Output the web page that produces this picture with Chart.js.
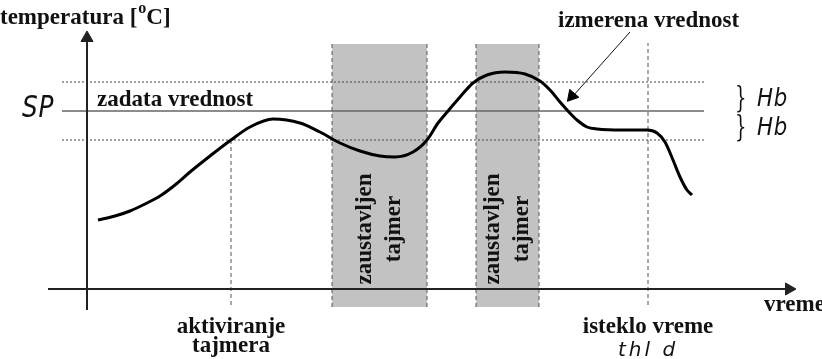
<!DOCTYPE html>
<html><head><meta charset="utf-8">
<script src="https://cdn.jsdelivr.net/npm/chart.js@4/dist/chart.umd.min.js"></script>
<style>html,body{margin:0;padding:0;background:#fff}#wrap{width:822px;height:359px}</style>
</head><body><div id="wrap"><canvas id="c" width="822" height="359"></canvas></div>
<script>
// time (x) and temperature (y) in schematic units; x axis at T=0, y axis at t=0
const curveTime = [11,28,43,58,73,88,103,123,144,163,186,213,233,253,273,293,308,326,340,351,361,373,386,400,418,438,453,463,473,481,490,500,510,536,560,570,578,586,593,600,605];
const curveTemp = [69,73,78,85,93,104,117,133,149,162,170,166,157,146,138,133,132,137,149,166,178,192,206,214,217,215,208,199,187,178,169,162,160,159,159,156,147,129,112,99,94];
const setPoint = 178;
const hysteresis = 29;
const bandLineRange = [-25, 617];
const stopBands = [[245, 340], [389, 452]]; // timer stopped intervals
const bandTempRange = [-18, 245];
const timerStart = 144;
const timerEnd = 561;
const timeAxisRange = [-39, 708];
const tempAxisRange = [-21, 257];
const arrowFrom = [543, 257];
const arrowTo = [481, 187];

const labels = {
  yTitle: 'temperatura [', yUnitSup: 'o', yUnit: 'C]',
  sp: 'SP', setText: 'zadata vrednost', measured: 'izmerena vrednost',
  hb: 'Hb', stop1: 'zaustavljen', stop2: 'tajmer',
  start1: 'aktiviranje', start2: 'tajmera', end1: 'isteklo vreme', end2: 'thl d', xTitle: 'vreme'
};

const ds = [];
// bands
stopBands.forEach(b => {
  ds.push({data:[{x:b[0],y:bandTempRange[1]},{x:b[1],y:bandTempRange[1]}], fill:{value:bandTempRange[0]},
    backgroundColor:'#c2c2c2', borderWidth:0, pointRadius:0, order:20});
  b.forEach(x => ds.push({data:[{x:x,y:bandTempRange[0]},{x:x,y:bandTempRange[1]}], borderColor:'#555',
    borderWidth:1, borderDash:[4,3], pointRadius:0, order:15}));
});
// timer verticals
ds.push({data:[{x:timerStart,y:-16},{x:timerStart,y:setPoint-hysteresis}], borderColor:'#555', borderWidth:1, borderDash:[4,3], pointRadius:0, order:15});
ds.push({data:[{x:timerEnd,y:-16},{x:timerEnd,y:bandTempRange[1]+1}], borderColor:'#555', borderWidth:1, borderDash:[4,3], pointRadius:0, order:15});
// setpoint and hysteresis lines
ds.push({data:[{x:bandLineRange[0],y:setPoint},{x:bandLineRange[1],y:setPoint}], borderColor:'#666', borderWidth:1.6, pointRadius:0, order:10});
[setPoint+hysteresis, setPoint-hysteresis].forEach(v => ds.push({data:[{x:bandLineRange[0],y:v},{x:bandLineRange[1],y:v}],
  borderColor:'#444', borderWidth:1, borderDash:[2,2], pointRadius:0, order:10}));
// axes
ds.push({data:[{x:0,y:tempAxisRange[0]},{x:0,y:tempAxisRange[1]-10}], borderColor:'#222', borderWidth:2, pointRadius:0, order:5});
ds.push({data:[{x:0,y:tempAxisRange[1]-6}], pointStyle:'triangle', pointRadius:7, pointBackgroundColor:'#222', pointBorderColor:'#222', showLine:false, order:5});
ds.push({data:[{x:timeAxisRange[0],y:0},{x:timeAxisRange[1]-10,y:0}], borderColor:'#222', borderWidth:2, pointRadius:0, order:5});
ds.push({data:[{x:timeAxisRange[1]-6,y:0}], pointStyle:'triangle', pointRadius:7, pointRotation:90, pointBackgroundColor:'#222', pointBorderColor:'#222', showLine:false, order:5});
// measured curve
ds.push({data:curveTime.map((t,i)=>({x:t,y:curveTemp[i]})), borderColor:'#000', borderWidth:3, pointRadius:0, cubicInterpolationMode:'monotone', order:1});
// annotation arrow
ds.push({data:[{x:arrowFrom[0],y:arrowFrom[1]},{x:arrowTo[0]+5,y:arrowTo[1]+6}], borderColor:'#111', borderWidth:1, pointRadius:0, order:2});
ds.push({data:[{x:arrowTo[0]+4,y:arrowTo[1]+6}], pointStyle:'triangle', pointRadius:7, pointRotation:221, pointBackgroundColor:'#000', pointBorderColor:'#000', showLine:false, order:2});

const textPlugin = {
  id:'texts',
  afterDatasetsDraw(chart){
    const {ctx, scales:{x, y}} = chart;
    const X = v => x.getPixelForValue(v), Y = v => y.getPixelForValue(v);
    const serif = "bold 23px 'Liberation Serif', 'Times New Roman', serif";
    ctx.save();
    ctx.fillStyle = '#111';
    ctx.textBaseline = 'alphabetic';
    ctx.font = serif; ctx.textAlign = 'left';
    // y title
    let px = 0, py = 24;
    ctx.fillText(labels.yTitle, px, py);
    px += ctx.measureText(labels.yTitle).width + 1;
    ctx.font = "bold 16px 'Liberation Serif', serif";
    ctx.fillText(labels.yUnitSup, px, py - 11);
    px += ctx.measureText(labels.yUnitSup).width;
    ctx.font = serif;
    ctx.fillText(labels.yUnit, px, py);
    ctx.fillText(labels.setText, X(10), Y(setPoint) - 5);
    ctx.fillText(labels.measured, 558, 27);
    ctx.textAlign = 'center';
    ctx.fillText(labels.start1, X(timerStart), 333);
    ctx.fillText(labels.start2, X(timerStart), 352);
    ctx.fillText(labels.end1, X(timerEnd), 333);
    ctx.textAlign = 'left';
    ctx.fillText(labels.xTitle, 764, 311);
    // rotated band labels
    stopBands.forEach(b => {
      const cx = (X(b[0]) + X(b[1])) / 2;
      const cy = Y(bandTempRange[0] + 78);
      ctx.save(); ctx.translate(cx, cy); ctx.rotate(-Math.PI/2);
      ctx.textAlign = 'center'; ctx.textBaseline = 'middle';
      ctx.fillText(labels.stop1, 0, -14);
      ctx.fillText(labels.stop2, 0, 15);
      ctx.restore();
    });
    // seven-segment style labels
    const seg = (txt, x0, y0, size, sx, sp) => {
      ctx.save(); ctx.translate(x0, y0); ctx.scale(sx, 1);
      ctx.font = "italic 200 " + size + "px 'DejaVu Sans', sans-serif";
      ctx.letterSpacing = (sp || 0) + 'px';
      ctx.textAlign = 'left'; ctx.fillStyle = '#111';
      ctx.fillText(txt, 0, 0); ctx.restore();
    };
    seg(labels.sp, 22, Y(setPoint) + 6, 31, 0.8, 1);
    seg(labels.hb, 757, Y(setPoint + hysteresis/2) + 9, 25, 0.85, 1);
    seg(labels.hb, 757, Y(setPoint - hysteresis/2) + 9, 25, 0.85, 1);
    seg(labels.end2, 618, 356, 20, 1, 3);
    // braces
    ctx.save();
    ctx.font = "30px 'DejaVu Serif', serif";
    ctx.translate(735, 0); ctx.scale(0.6, 1);
    ctx.fillText('}', 0, Y(setPoint + hysteresis/2) + 10);
    ctx.fillText('}', 0, Y(setPoint - hysteresis/2) + 10);
    ctx.restore();
    ctx.restore();
  }
};

new Chart(document.getElementById('c'), {
  type:'line',
  data:{datasets:ds},
  options:{
    responsive:false, animation:false, devicePixelRatio:1,
    layout:{padding:0, autoPadding:false},
    plugins:{legend:{display:false}, tooltip:{enabled:false}},
    scales:{
      x:{type:'linear', min:-87, max:735, display:false},
      y:{type:'linear', min:-70, max:289, display:false}
    }
  },
  plugins:[textPlugin]
});
</script></body></html>
